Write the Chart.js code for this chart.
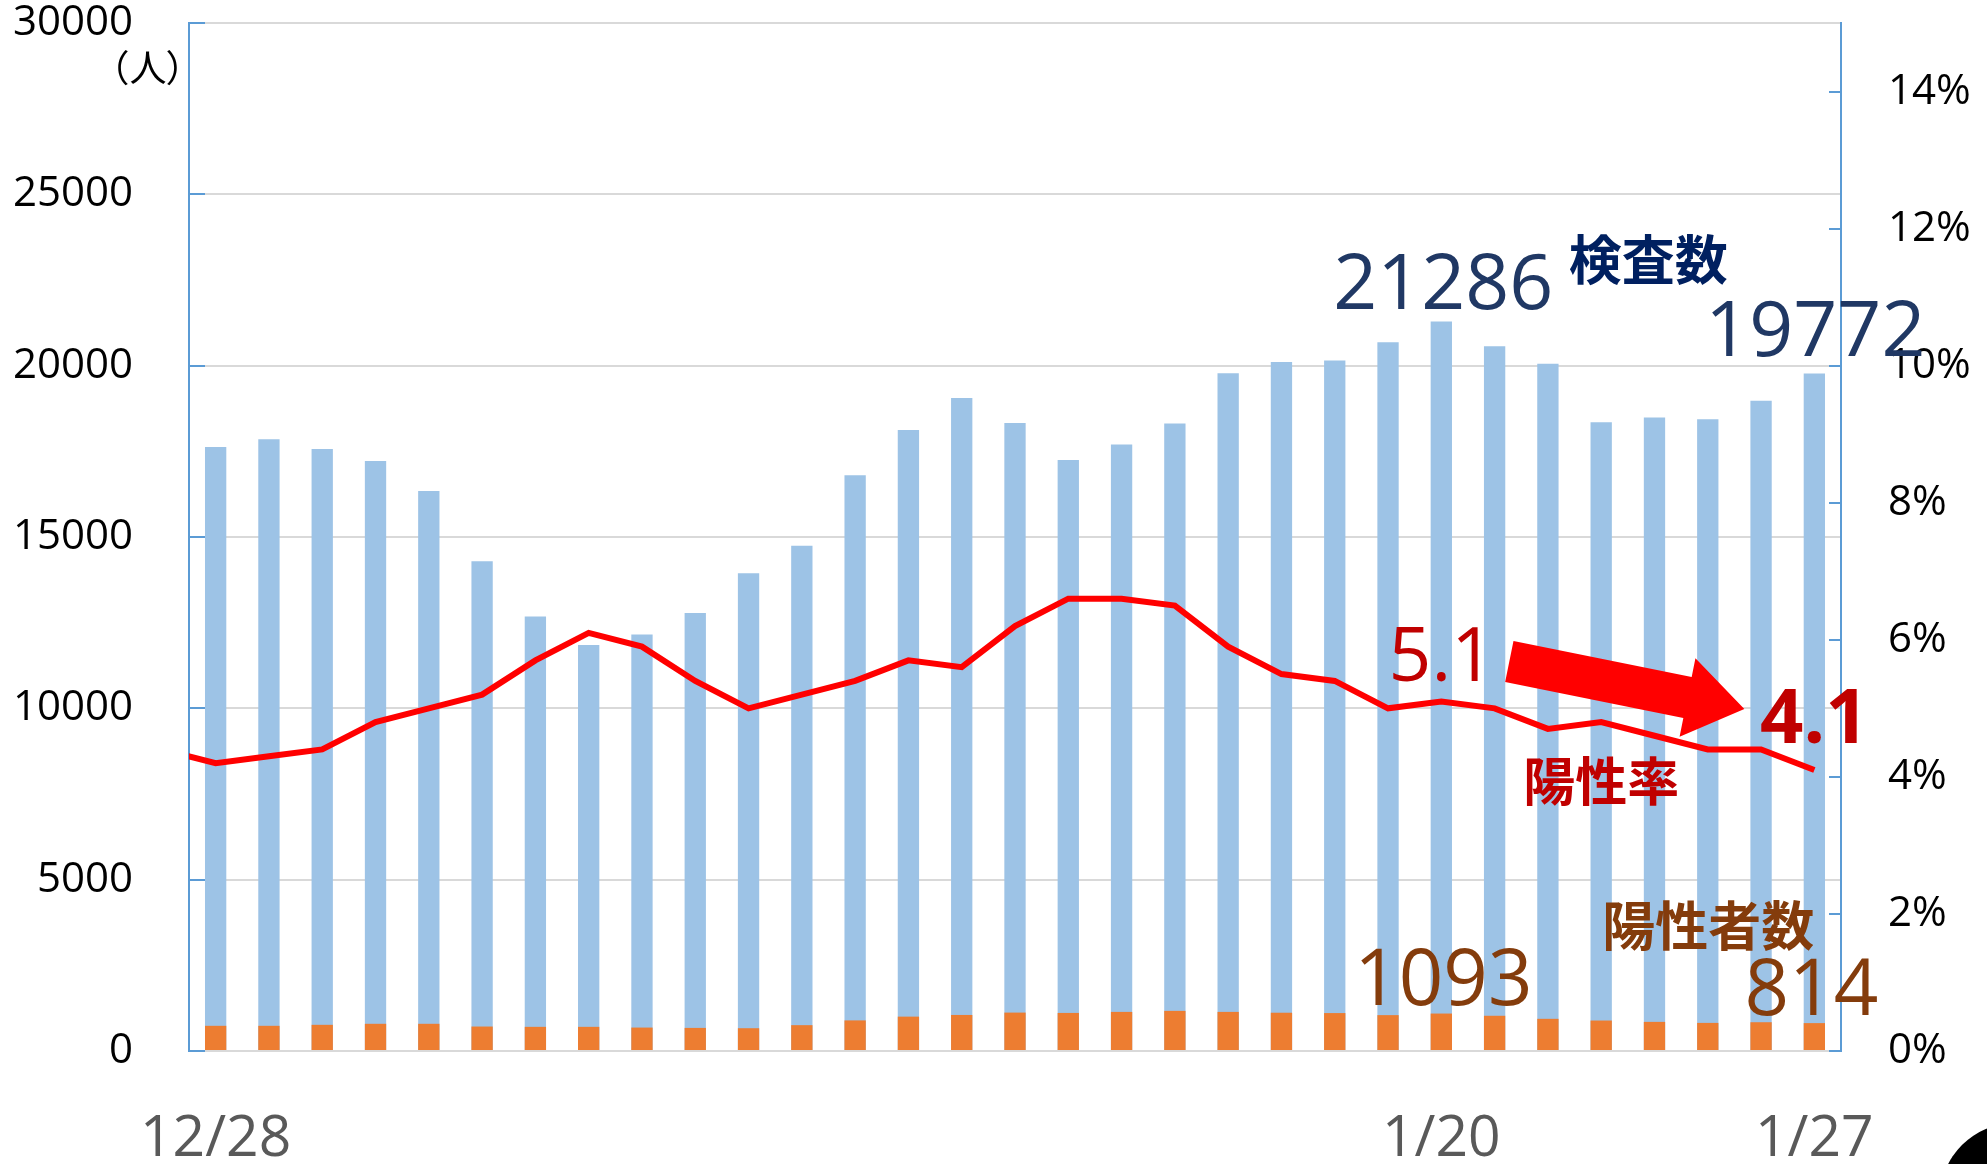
<!DOCTYPE html>
<html>
<head>
<meta charset="utf-8">
<script src="https://cdn.jsdelivr.net/npm/chart.js@4.4.1/dist/chart.umd.min.js"></script>
<style>
html,body{margin:0;padding:0;background:#fff;}
canvas{display:block;}
</style>
</head>
<body>
<canvas id="c" width="1987" height="1164"></canvas>
<script>
// ---- data ----
const dates = ['12/27','12/28','12/29','12/30','12/31',
  '1/1','1/2','1/3','1/4','1/5','1/6','1/7','1/8','1/9','1/10',
  '1/11','1/12','1/13','1/14','1/15','1/16','1/17','1/18','1/19','1/20',
  '1/21','1/22','1/23','1/24','1/25','1/26','1/27'];
const shownDates = ['12/28','1/20','1/27'];
const firstDate = '12/28';
const lastDate = '1/27';
const tests = [null, 17630, 17855, 17570, 17220, 16345, 14294, 12677, 11850, 12152, 12785,
  13943, 14745, 16800, 18120, 19060, 18330, 17250, 17700, 18310, 19780,
  20110, 20150, 20686, 21286, 20569, 20053, 18351, 18486, 18438, 18973, 19772];
const positives = [null, 735, 735, 764, 794, 794, 714, 705, 705, 684, 674,
  665, 754, 893, 1003, 1052, 1121, 1111, 1141, 1171, 1141,
  1117, 1107, 1047, 1093, 1028, 939, 889, 850, 820, 840, 814];
const positiveRate = [4.4, 4.2, 4.3, 4.4, 4.8, 5.0, 5.2, 5.7, 6.1, 5.9, 5.4,
  5.0, 5.2, 5.4, 5.7, 5.6, 6.2, 6.6, 6.6, 6.5, 5.9,
  5.5, 5.4, 5.0, 5.1, 5.0, 4.7, 4.8, 4.6, 4.4, 4.4, 4.1];
const leftMax = 30000, leftStep = 5000;
const rightMax = 15, rightStep = 2;
const fromDate = '1/20', toDate = '1/27';

const FONT = "'Open Sans', 'Liberation Sans', sans-serif";
const CJK = "'Noto Sans CJK JP', sans-serif";

const W = 1987, H = 1164;
const AREA = {left: 189, right: 1841, top: 23, bottom: 1051};

const insideTicks = {
  id: 'insideTicks',
  beforeDatasetsDraw(chart) {
    const {ctx, chartArea: a, scales: {y, y2}} = chart;
    ctx.save();
    ctx.strokeStyle = '#5b9bd5';
    ctx.lineWidth = 2;
    y.ticks.forEach(t => {
      const p = Math.round(y.getPixelForValue(t.value));
      ctx.beginPath(); ctx.moveTo(a.left, p); ctx.lineTo(a.left + 16, p); ctx.stroke();
    });
    y2.ticks.forEach(t => {
      const p = Math.round(y2.getPixelForValue(t.value));
      ctx.beginPath(); ctx.moveTo(a.right, p); ctx.lineTo(a.right - 12, p); ctx.stroke();
    });
    ctx.restore();
  }
};

function drawText(ctx, s, cx, cy, size, color, bold, cjk) {
  ctx.save();
  ctx.font = (bold ? 'bold ' : '') + size + 'px ' + (cjk ? CJK : FONT);
  ctx.fillStyle = color;
  ctx.textAlign = 'center';
  ctx.textBaseline = 'alphabetic';
  ctx.fillText(s, cx, cy + (cjk ? 0.38 : 0.357) * size);
  ctx.restore();
}

const annotations = {
  id: 'annotations',
  afterDatasetsDraw(chart) {
    const {ctx, scales: {x, y, y2}} = chart;
    const iA = dates.indexOf(fromDate), iB = dates.indexOf(toDate);
    const xA = x.getPixelForValue(iA), xB = x.getPixelForValue(iB);

    // arrow
    const ax0 = xA + 68, ay0 = y2.getPixelForValue(positiveRate[iA]) - 40;
    const ax1 = xB - 70, ay1 = y2.getPixelForValue(positiveRate[iB]) - 61;
    const dx = ax1 - ax0, dy = ay1 - ay0, L = Math.hypot(dx, dy);
    const ux = dx / L, uy = dy / L, nx = -uy, ny = ux;
    const sw = 21, hw = 40, hl = 58;
    const bx = ax1 - ux * hl, by = ay1 - uy * hl;
    ctx.save();
    ctx.fillStyle = '#ff0000';
    ctx.beginPath();
    ctx.moveTo(ax0 + nx * sw, ay0 + ny * sw);
    ctx.lineTo(bx + nx * sw, by + ny * sw);
    ctx.lineTo(bx + nx * hw, by + ny * hw);
    ctx.lineTo(ax1, ay1);
    ctx.lineTo(bx - nx * hw, by - ny * hw);
    ctx.lineTo(bx - nx * sw, by - ny * sw);
    ctx.lineTo(ax0 - nx * sw, ay0 - ny * sw);
    ctx.closePath();
    ctx.fill();
    ctx.restore();

    drawText(ctx, String(tests[iA]), xA + 2, y.getPixelForValue(tests[iA]) - 40, 77, '#203864', false, false);
    drawText(ctx, String(tests[iB]), xB + 1, y.getPixelForValue(tests[iB]) - 45, 77, '#203864', false, false);
    drawText(ctx, '検査数', xA + 207, y.getPixelForValue(tests[iA]) - 62, 53, '#002060', true, true);
    drawText(ctx, positiveRate[iA].toFixed(1), xA, y2.getPixelForValue(positiveRate[iA]) - 47, 75, '#c00000', false, false);
    drawText(ctx, positiveRate[iB].toFixed(1), xB, y2.getPixelForValue(positiveRate[iB]) - 54, 76, '#c00000', true, false);
    drawText(ctx, '陽性率', xA + 160, y2.getPixelForValue(positiveRate[iB]) + 11, 52, '#c00000', true, true);
    drawText(ctx, '陽性者数', xB - 106, y.getPixelForValue(positives[iB]) - 97, 53, '#843c0c', true, true);
    drawText(ctx, String(positives[iA]), xA + 2, y.getPixelForValue(positives[iA]) - 36, 78, '#843c0c', false, false);
    drawText(ctx, String(positives[iB]), xB - 3, y.getPixelForValue(positives[iB]) - 36, 78, '#843c0c', false, false);
  },
  afterDraw(chart) {
    const {ctx, chartArea: a} = chart;
    // unit label
    const cy = a.top + 45;
    ctx.save();
    ctx.font = '37px ' + CJK;
    ctx.fillStyle = '#000';
    ctx.textAlign = 'center';
    ctx.textBaseline = 'alphabetic';
    const base = cy + 0.38 * 37;
    ctx.fillText('（', a.left - 78, base);
    ctx.fillText('人', a.left - 41, base);
    ctx.fillText('）', a.left - 5, base);
    ctx.restore();
    // page badge in corner
    ctx.save();
    ctx.fillStyle = '#000';
    ctx.beginPath();
    ctx.arc(W + 28, H + 34, 75, 0, Math.PI * 2);
    ctx.fill();
    ctx.restore();
  }
};

const bg = {
  id: 'bg',
  beforeDraw(chart) {
    const {ctx} = chart;
    ctx.save(); ctx.fillStyle = '#fff'; ctx.fillRect(0, 0, chart.width, chart.height); ctx.restore();
  }
};

new Chart(document.getElementById('c'), {
  data: {
    labels: dates,
    datasets: [
      {type: 'line', label: '陽性率', data: positiveRate, yAxisID: 'y2', order: 0,
       borderColor: '#ff0000', borderWidth: 6, pointRadius: 0, tension: 0, fill: false},
      {type: 'bar', label: '陽性者数', data: positives, yAxisID: 'y', order: 1,
       backgroundColor: '#ed7d31', grouped: false, barPercentage: 0.4, categoryPercentage: 1},
      {type: 'bar', label: '検査数', data: tests, yAxisID: 'y', order: 2,
       backgroundColor: '#9dc3e6', grouped: false, barPercentage: 0.4, categoryPercentage: 1}
    ]
  },
  options: {
    responsive: false,
    animation: false,
    devicePixelRatio: 1,
    layout: {padding: {top: AREA.top, left: 0, right: 0, bottom: 0}},
    plugins: {legend: {display: false}, tooltip: {enabled: false}, title: {display: false}},
    scales: {
      x: {
        type: 'category',
        min: firstDate, max: lastDate,
        offset: true,
        grid: {display: false, drawTicks: false},
        border: {display: true, color: '#d9d9d9', width: 2},
        ticks: {
          autoSkip: false, maxRotation: 0, minRotation: 0, padding: 55,
          color: '#595959', font: {family: FONT, size: 57},
          callback(value) { const l = this.getLabelForValue(value); return shownDates.includes(l) ? l : ''; }
        },
        afterFit(s) { s.height = H - AREA.bottom; s.paddingLeft = 0; s.paddingRight = 0; }
      },
      y: {
        position: 'left', min: 0, max: leftMax,
        grid: {color: '#d9d9d9', lineWidth: 2, drawTicks: false},
        border: {display: true, color: '#5b9bd5', width: 2},
        ticks: {stepSize: leftStep, padding: 56, color: '#000', font: {family: FONT, size: 42},
                callback: v => String(v)},
        afterFit(s) { s.width = AREA.left; s.paddingTop = 0; s.paddingBottom = 0; }
      },
      y2: {
        position: 'right', min: 0, max: rightMax,
        grid: {display: false, drawOnChartArea: false, drawTicks: false},
        border: {display: true, color: '#5b9bd5', width: 2},
        ticks: {stepSize: rightStep, includeBounds: false, padding: 47, color: '#000',
                font: {family: FONT, size: 42}, callback: v => v + '%'},
        afterFit(s) { s.width = W - AREA.right; s.paddingTop = 0; s.paddingBottom = 0; }
      }
    }
  },
  plugins: [bg, insideTicks, annotations]
});
</script>
</body>
</html>
